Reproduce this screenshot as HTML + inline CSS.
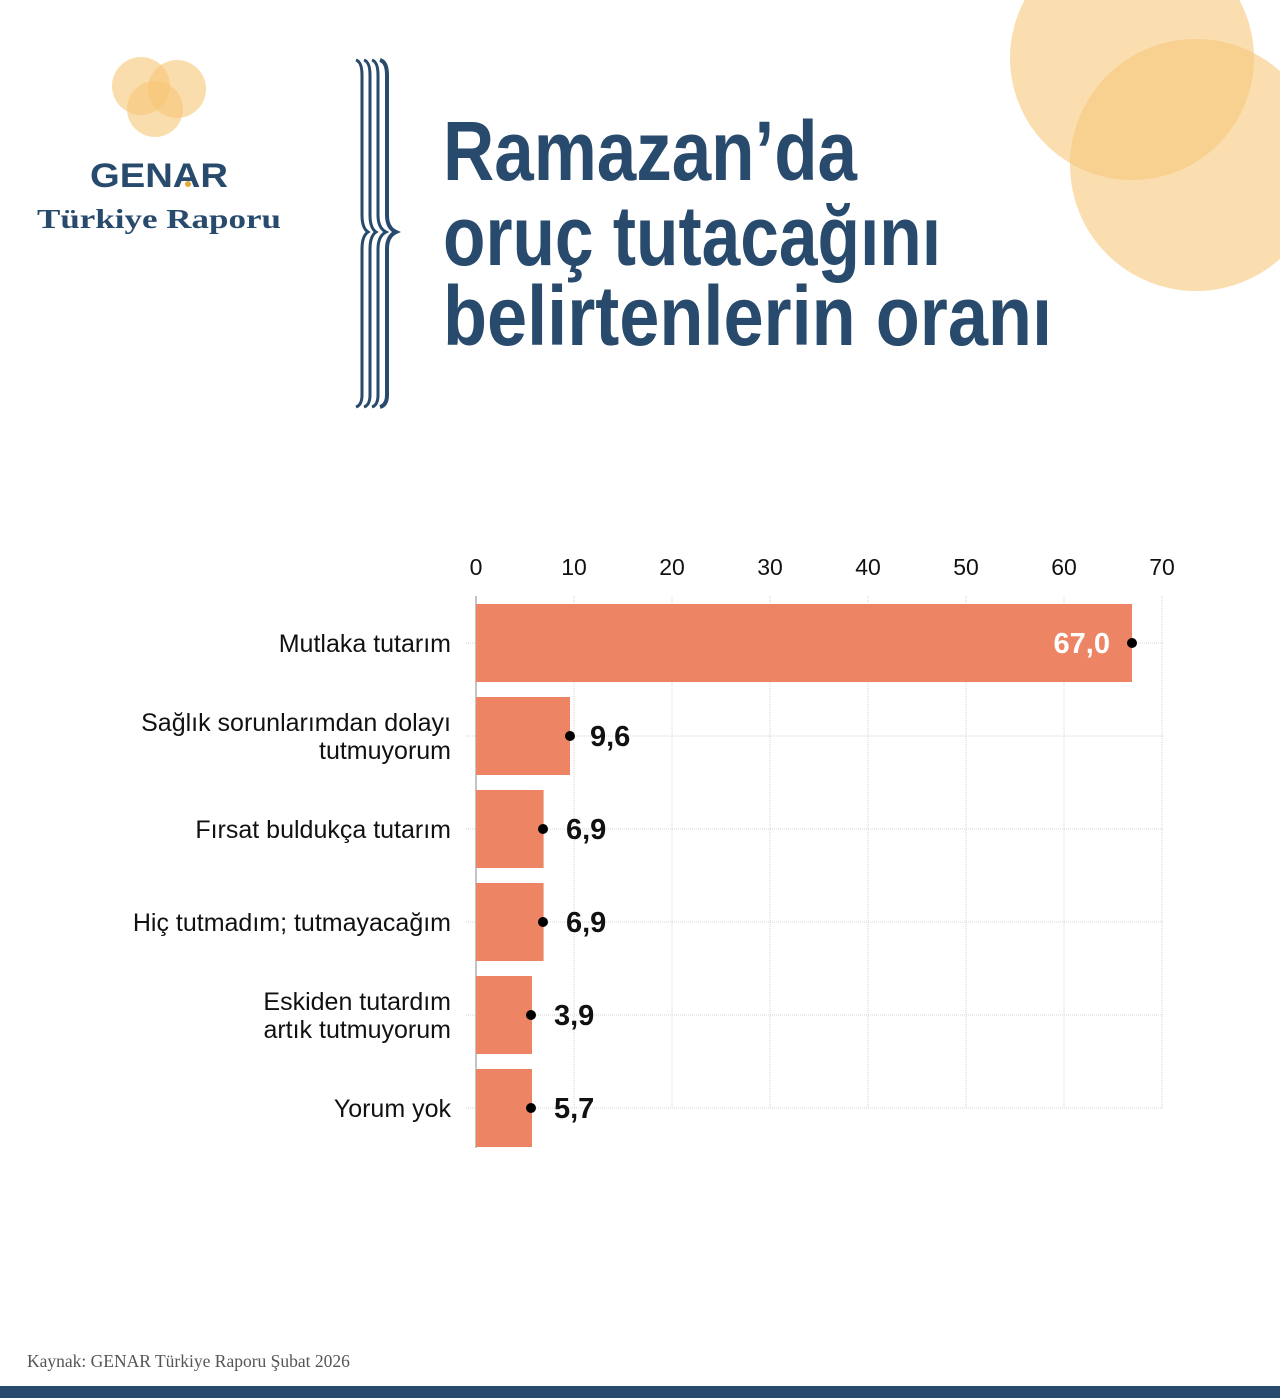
<!DOCTYPE html>
<html><head><meta charset="utf-8"><style>
html,body{margin:0;padding:0;background:#fff;}
svg{display:block;}
</style></head><body>
<svg width="1280" height="1398" viewBox="0 0 1280 1398" xmlns="http://www.w3.org/2000/svg">
<rect width="1280" height="1398" fill="#fff"/>
<circle cx="1132" cy="58" r="122" fill="#f7c677" opacity="0.58"/>
<circle cx="1196" cy="165" r="126" fill="#f7c677" opacity="0.58"/>
<circle cx="141" cy="86" r="29" fill="#f7c677" opacity="0.6"/>
<circle cx="177" cy="89" r="29" fill="#f7c677" opacity="0.6"/>
<circle cx="155" cy="109" r="28" fill="#f7c677" opacity="0.6"/>
<text x="159" y="187" text-anchor="middle" font-family="Liberation Sans, sans-serif" font-weight="bold" font-size="34" fill="#284a6c" textLength="138" lengthAdjust="spacingAndGlyphs">GENAR</text>
<circle cx="188" cy="184" r="3" fill="#e9a83a"/>
<text x="159" y="228" text-anchor="middle" font-family="Liberation Serif, serif" font-weight="bold" font-size="27" fill="#284a6c" textLength="244" lengthAdjust="spacingAndGlyphs">Türkiye Raporu</text>
<g fill="none" stroke="#284a6c" stroke-width="3">
<path d="M356 60 Q362 62 362 75 L362 215 Q362 228 368 232 Q362 236 362 249 L362 395 Q362 405 356 407"/>
<path d="M364 60 Q370 62 370 75 L370 215 Q370 228 376 232 Q370 236 370 249 L370 395 Q370 405 364 407"/>
<path d="M372 60 Q378 62 378 75 L378 215 Q378 228 386 232 Q378 236 378 249 L378 395 Q378 405 372 407"/>
<path d="M380 60 Q387 62 387 75 L387 215 Q387 228 396 232 Q387 236 387 249 L387 395 Q387 405 380 407" stroke-width="4"/>
</g>
<g font-family="Liberation Sans Narrow, Liberation Sans, sans-serif" font-weight="bold" font-size="84" fill="#284a6c">
<text x="443" y="180" textLength="414" lengthAdjust="spacingAndGlyphs">Ramazan’da</text>
<text x="443" y="265" textLength="498" lengthAdjust="spacingAndGlyphs">oruç tutacağını</text>
<text x="443" y="345" textLength="609" lengthAdjust="spacingAndGlyphs">belirtenlerin oranı</text>
</g>
<g stroke="#d4d4d4" stroke-width="1" stroke-dasharray="1 1">
<line x1="574" y1="596" x2="574" y2="1108"/>
<line x1="672" y1="596" x2="672" y2="1108"/>
<line x1="770" y1="596" x2="770" y2="1108"/>
<line x1="868" y1="596" x2="868" y2="1108"/>
<line x1="966" y1="596" x2="966" y2="1108"/>
<line x1="1064" y1="596" x2="1064" y2="1108"/>
<line x1="1162" y1="596" x2="1162" y2="1108"/>
<line x1="466" y1="643" x2="1164" y2="643"/>
<line x1="466" y1="736" x2="1164" y2="736"/>
<line x1="466" y1="829" x2="1164" y2="829"/>
<line x1="466" y1="922" x2="1164" y2="922"/>
<line x1="466" y1="1015" x2="1164" y2="1015"/>
<line x1="466" y1="1108" x2="1164" y2="1108"/>
</g>
<line x1="476" y1="596" x2="476" y2="1148" stroke="#888" stroke-width="1"/>
<g font-family="Liberation Sans, sans-serif" font-size="23" fill="#111" text-anchor="middle">
<text x="476" y="575">0</text><text x="574" y="575">10</text><text x="672" y="575">20</text><text x="770" y="575">30</text><text x="868" y="575">40</text><text x="966" y="575">50</text><text x="1064" y="575">60</text><text x="1162" y="575">70</text>
</g>
<g fill="#ed8565">
<rect x="476" y="604" width="656" height="78"/>
<rect x="476" y="697" width="94" height="78"/>
<rect x="476" y="790" width="67.6" height="78"/>
<rect x="476" y="883" width="67.6" height="78"/>
<rect x="476" y="976" width="56" height="78"/>
<rect x="476" y="1069" width="56" height="78"/>
</g>
<g fill="#000">
<circle cx="1132" cy="643" r="5"/><circle cx="570" cy="736" r="5"/><circle cx="543" cy="829" r="5"/><circle cx="543" cy="922" r="5"/><circle cx="531" cy="1015" r="5"/><circle cx="531" cy="1108" r="5"/>
</g>
<g font-family="Liberation Sans Narrow, Liberation Sans, sans-serif" font-weight="bold" font-size="29">
<text x="1110" y="653" text-anchor="end" fill="#fff">67,0</text>
<text x="590" y="746" fill="#111">9,6</text>
<text x="566" y="839" fill="#111">6,9</text>
<text x="566" y="932" fill="#111">6,9</text>
<text x="554" y="1025" fill="#111">3,9</text>
<text x="554" y="1118" fill="#111">5,7</text>
</g>
<g font-family="Liberation Sans, sans-serif" font-size="25" fill="#111" text-anchor="end">
<text x="451" y="652">Mutlaka tutarım</text>
<text x="451" y="731">Sağlık sorunlarımdan dolayı</text>
<text x="451" y="759">tutmuyorum</text>
<text x="451" y="838">Fırsat buldukça tutarım</text>
<text x="451" y="931">Hiç tutmadım; tutmayacağım</text>
<text x="451" y="1010">Eskiden tutardım</text>
<text x="451" y="1038">artık tutmuyorum</text>
<text x="451" y="1117">Yorum yok</text>
</g>
<text x="27" y="1367" font-family="Liberation Serif, serif" font-size="17.5" fill="#555">Kaynak: GENAR Türkiye Raporu Şubat 2026</text>
<rect x="0" y="1386" width="1280" height="12" fill="#284a6c"/>
</svg>
</body></html>
